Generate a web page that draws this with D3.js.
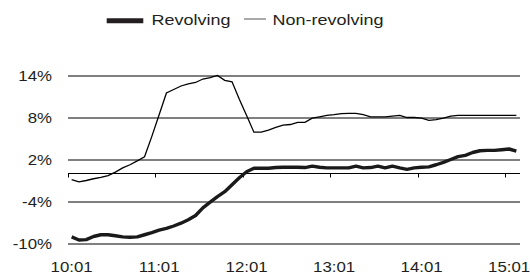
<!DOCTYPE html>
<html>
<head>
<meta charset="utf-8">
<script src="https://cdn.jsdelivr.net/npm/d3@7"></script>
<style>
  body { margin: 0; background: #fff; }
  text { font-family: "Liberation Sans", Arial, sans-serif; fill: #231f20; }
</style>
</head>
<body>
<script>
// categories: one every 5 minutes, 10:01 .. 15:06
const times = d3.range(62).map(i => {
    const m = 601 + i * 5;
    return Math.floor(m / 60) + ":" + String(m % 60).padStart(2, "0");
});
const tickLabels = ["10:01", "11:01", "12:01", "13:01", "14:01", "15:01"];
const yTicks = [-10, -4, 2, 8, 14];

const nonRevolving = [
    -0.86, -1.2, -1.0, -0.75, -0.55, -0.3, 0.2, 0.8, 1.25, 1.8,
    2.4, 5.3, 8.4, 11.5, 12.0, 12.5, 12.8, 13.0, 13.5, 13.7,
    14.0, 13.3, 13.1, 10.6, 8.3, 5.9, 5.9, 6.2, 6.6, 6.9,
    7.0, 7.3, 7.3, 7.9, 8.1, 8.3, 8.4, 8.55, 8.6, 8.6,
    8.4, 8.1, 8.1, 8.1, 8.2, 8.3, 8.0, 8.0, 7.9, 7.6,
    7.7, 7.9, 8.2, 8.3, 8.3, 8.3, 8.3, 8.3, 8.3, 8.3,
    8.3, 8.3
];
const revolving = [
    -9.05, -9.5, -9.45, -9.0, -8.75, -8.75, -8.9, -9.05, -9.1, -9.05,
    -8.75, -8.45, -8.1, -7.85, -7.5, -7.1, -6.6, -6.0, -4.9, -4.1,
    -3.3, -2.6, -1.6, -0.6, 0.25, 0.75, 0.75, 0.75, 0.85, 0.9,
    0.9, 0.9, 0.85, 1.05, 0.9, 0.8, 0.8, 0.8, 0.8, 1.05,
    0.8, 0.85, 1.05, 0.8, 1.05, 0.8, 0.6, 0.8, 0.9, 0.95,
    1.25, 1.6, 2.0, 2.4, 2.6, 3.0, 3.25, 3.3, 3.3, 3.4,
    3.5, 3.2
];

const width = 530, height = 274;
const left = 68, right = 520;

const svg = d3.select("body").append("svg")
    .attr("width", width)
    .attr("height", height);

const x = d3.scaleBand().domain(times).range([left, right]);
const y = d3.scaleLinear().domain([-10, 14]).range([243.5, 75.5]);
const cx = t => x(t) + x.bandwidth() / 2;

// gridlines + y labels
const yAxis = svg.append("g")
    .attr("transform", "translate(" + left + ",0)")
    .call(d3.axisLeft(y).tickValues(yTicks).tickSize(-(right - left)).tickFormat(d => d + "%"));
yAxis.select(".domain").remove();
yAxis.selectAll(".tick line").attr("stroke", "#000").attr("stroke-width", 1);
yAxis.selectAll(".tick text")
    .attr("x", 0)
    .attr("dy", "0.35em")
    .attr("transform", "translate(-16,0) scale(1.16,1)")
    .attr("text-anchor", "end")
    .style("font-size", "14.5px")
    .attr("fill", "#231f20");

// category axis at 0
const y0 = y(0);
svg.append("line")
    .attr("x1", left).attr("x2", right)
    .attr("y1", y0).attr("y2", y0)
    .attr("stroke", "#000");
svg.selectAll(".xtick")
    .data(tickLabels)
    .enter().append("line")
    .attr("class", "xtick")
    .attr("x1", d => Math.round(x(d)) + 0.5).attr("x2", d => Math.round(x(d)) + 0.5)
    .attr("y1", y0).attr("y2", y0 + 4)
    .attr("stroke", "#000");
svg.selectAll(".xlabel")
    .data(tickLabels)
    .enter().append("text")
    .attr("class", "xlabel")
    .attr("transform", d => "translate(" + cx(d) + ",271.5) scale(1.16,1)")
    .attr("text-anchor", "middle")
    .style("font-size", "14.5px")
    .text(d => d);

// lines
const line = d3.line()
    .x((d, i) => cx(times[i]))
    .y(d => y(d));

svg.append("path")
    .datum(nonRevolving)
    .attr("d", line)
    .attr("fill", "none")
    .attr("stroke", "#000")
    .attr("stroke-width", 1.3);

svg.append("path")
    .datum(revolving)
    .attr("d", line)
    .attr("fill", "none")
    .attr("stroke", "#1a1a1a")
    .attr("stroke-width", 3.4)
    .attr("stroke-linejoin", "round");

// legend
const legend = svg.append("g");
legend.append("line")
    .attr("x1", 106.7).attr("x2", 143.3)
    .attr("y1", 20.8).attr("y2", 20.8)
    .attr("stroke", "#231f20")
    .attr("stroke-width", 5);
legend.append("text")
    .attr("transform", "translate(151.5,24.5) scale(1.2,1)")
    .style("font-size", "15px")
    .text("Revolving");
legend.append("line")
    .attr("x1", 244).attr("x2", 266)
    .attr("y1", 19).attr("y2", 19)
    .attr("stroke", "#555")
    .attr("stroke-width", 1);
legend.append("text")
    .attr("transform", "translate(272.5,24.5) scale(1.2,1)")
    .style("font-size", "15px")
    .text("Non-revolving");
</script>
</body>
</html>
